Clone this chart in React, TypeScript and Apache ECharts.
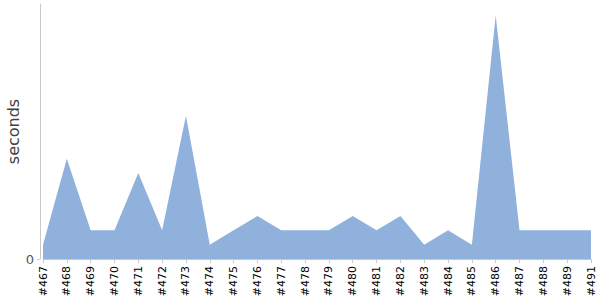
import React, { useEffect, useRef } from "react";
import * as echarts from "echarts";

const categories = [
  "#467", "#468", "#469", "#470", "#471", "#472", "#473", "#474", "#475", "#476",
  "#477", "#478", "#479", "#480", "#481", "#482", "#483", "#484", "#485", "#486",
  "#487", "#488", "#489", "#491",
];
const seconds = [1, 7, 2, 2, 6, 2, 10, 1, 2, 3, 2, 2, 2, 3, 2, 3, 1, 2, 1, 17, 2, 2, 2, 2];
const yTickValues = [0];

export default function App() {
  const ref = useRef<HTMLDivElement>(null);
  useEffect(() => {
    if (!ref.current) return;
    const chart = echarts.init(ref.current, undefined, { renderer: "svg" });
    chart.setOption({
      animation: false,
      grid: { left: 43, right: 9, top: 4, bottom: 41, containLabel: false, outerBoundsMode: "none" },
      xAxis: {
        type: "category",
        data: categories,
        boundaryGap: false,
        offset: 3,
        axisLine: { lineStyle: { color: "#c8c8c8" } },
        axisTick: { alignWithLabel: true, length: 4, lineStyle: { color: "#c8c8c8" } },
        axisLabel: {
          rotate: 90,
          interval: 0,
          color: "#000",
          fontSize: 11,
          fontFamily: "DejaVu Sans",
          margin: 4,
        },
        splitLine: { show: false },
      },
      yAxis: {
        type: "value",
        min: 0,
        max: 17.8,
        offset: 3,
        name: "seconds",
        nameLocation: "middle",
        nameGap: 19,
        nameMoveOverlap: false,
        nameRotate: 90,
        nameTextStyle: { color: "#444", fontSize: 16, fontFamily: "DejaVu Sans" },
        axisLine: { show: true, lineStyle: { color: "#c8c8c8" } },
        axisTick: { show: true, length: 3, customValues: yTickValues, lineStyle: { color: "#c8c8c8" } },
        axisLabel: {
          color: "#555",
          fontSize: 13,
          fontFamily: "DejaVu Sans",
          margin: 6,
          customValues: yTickValues,
        },
        splitLine: { show: false },
      },
      series: [
        {
          type: "line",
          data: seconds,
          symbol: "none",
          lineStyle: { width: 0 },
          areaStyle: { color: "#8fb1db", opacity: 1 },
        },
      ],
    });
    return () => chart.dispose();
  }, []);
  return <div ref={ref} style={{ width: 600, height: 300, position: "absolute", left: 0, top: 0 }} />;
}
